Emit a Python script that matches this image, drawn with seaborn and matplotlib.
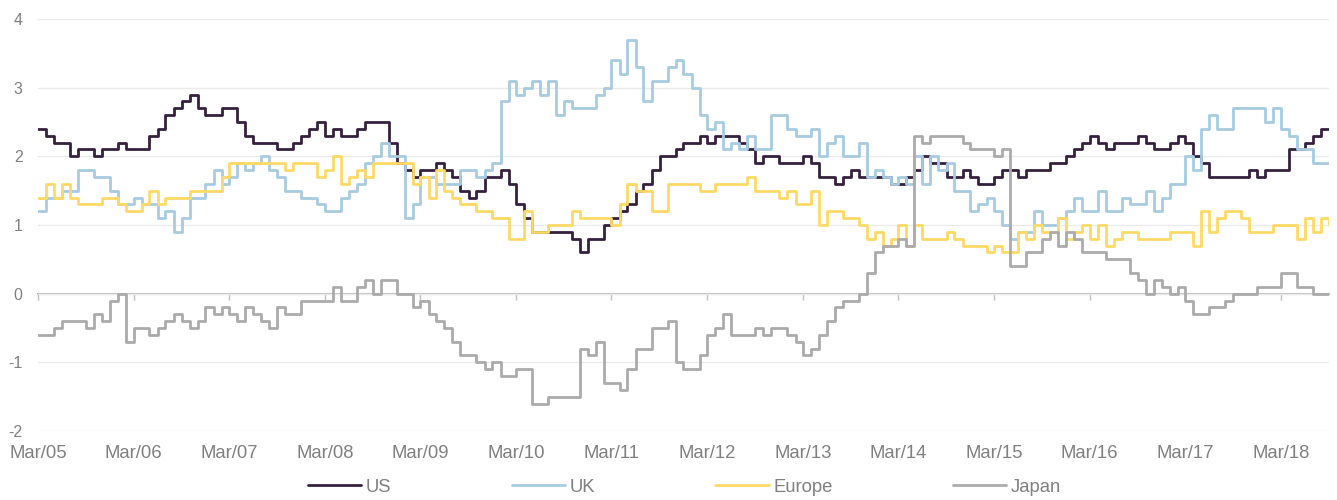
import numpy as np
import pandas as pd
import matplotlib
matplotlib.use("Agg")
import matplotlib.pyplot as plt
import matplotlib.dates as mdates
import seaborn as sns

sns.set_style("white")
plt.rcParams['font.family'] = ['Liberation Sans', 'DejaVu Sans']
plt.rcParams['axes.unicode_minus'] = False

# monthly readings, Mar 2005 .. Sep 2018 (one row per year, Mar..Feb)
us = [2.4, 2.3, 2.2, 2.2, 2.0, 2.1, 2.1, 2.0, 2.1, 2.1, 2.2, 2.1,
      2.1, 2.1, 2.3, 2.4, 2.6, 2.7, 2.8, 2.9, 2.7, 2.6, 2.6, 2.7,
      2.7, 2.5, 2.3, 2.2, 2.2, 2.2, 2.1, 2.1, 2.2, 2.3, 2.4, 2.5,
      2.3, 2.4, 2.3, 2.3, 2.4, 2.5, 2.5, 2.5, 2.2, 1.9, 1.8, 1.7,
      1.8, 1.8, 1.9, 1.8, 1.7, 1.5, 1.4, 1.5, 1.7, 1.7, 1.8, 1.6,
      1.3, 1.1, 0.9, 0.9, 0.9, 0.9, 0.9, 0.8, 0.6, 0.8, 0.8, 1.0,
      1.1, 1.2, 1.3, 1.5, 1.6, 1.8, 2.0, 2.0, 2.1, 2.2, 2.2, 2.3,
      2.2, 2.3, 2.3, 2.3, 2.2, 2.1, 1.9, 2.0, 2.0, 1.9, 1.9, 1.9,
      2.0, 1.9, 1.7, 1.7, 1.6, 1.7, 1.8, 1.7, 1.7, 1.7, 1.7, 1.6,
      1.6, 1.7, 1.8, 2.0, 1.9, 1.9, 1.7, 1.7, 1.8, 1.7, 1.6, 1.6,
      1.7, 1.8, 1.8, 1.7, 1.8, 1.8, 1.8, 1.9, 1.9, 2.0, 2.1, 2.2,
      2.3, 2.2, 2.1, 2.2, 2.2, 2.2, 2.3, 2.2, 2.1, 2.1, 2.2, 2.3,
      2.2, 2.0, 1.9, 1.7, 1.7, 1.7, 1.7, 1.7, 1.8, 1.7, 1.8, 1.8,
      1.8, 2.1, 2.1, 2.2, 2.3, 2.4, 2.4]

uk = [1.2, 1.4, 1.4, 1.5, 1.5, 1.8, 1.8, 1.7, 1.7, 1.5, 1.3, 1.3,
      1.4, 1.3, 1.3, 1.1, 1.2, 0.9, 1.1, 1.4, 1.4, 1.6, 1.8, 1.6,
      1.7, 1.9, 1.8, 1.9, 2.0, 1.8, 1.7, 1.5, 1.5, 1.4, 1.4, 1.3,
      1.2, 1.2, 1.4, 1.5, 1.6, 1.9, 2.0, 2.2, 2.0, 2.0, 1.1, 1.3,
      1.7, 1.7, 1.6, 1.6, 1.6, 1.8, 1.8, 1.7, 1.8, 1.9, 2.8, 3.1,
      2.9, 3.0, 3.1, 2.9, 3.1, 2.6, 2.8, 2.7, 2.7, 2.7, 2.9, 3.0,
      3.4, 3.2, 3.7, 3.3, 2.8, 3.1, 3.1, 3.3, 3.4, 3.2, 3.0, 2.6,
      2.4, 2.5, 2.1, 2.2, 2.1, 2.3, 2.1, 2.1, 2.6, 2.6, 2.4, 2.3,
      2.3, 2.4, 2.0, 2.2, 2.3, 2.0, 2.0, 2.2, 1.7, 1.8, 1.7, 1.6,
      1.7, 1.6, 2.0, 1.6, 2.0, 1.8, 1.9, 1.5, 1.5, 1.2, 1.3, 1.4,
      1.2, 1.0, 0.8, 0.9, 0.9, 1.2, 1.0, 1.0, 1.1, 1.2, 1.4, 1.2,
      1.2, 1.5, 1.2, 1.2, 1.4, 1.3, 1.3, 1.5, 1.2, 1.4, 1.6, 1.6,
      2.0, 1.8, 2.4, 2.6, 2.4, 2.4, 2.7, 2.7, 2.7, 2.7, 2.5, 2.7,
      2.4, 2.3, 2.1, 2.1, 1.9, 1.9, 1.9]

europe = [1.4, 1.6, 1.4, 1.6, 1.4, 1.3, 1.3, 1.3, 1.4, 1.4, 1.3, 1.2,
          1.2, 1.3, 1.5, 1.3, 1.4, 1.4, 1.4, 1.5, 1.5, 1.5, 1.5, 1.7,
          1.9, 1.9, 1.9, 1.9, 1.9, 1.9, 1.9, 1.8, 1.9, 1.9, 1.9, 1.7,
          1.8, 2.0, 1.6, 1.7, 1.8, 1.7, 1.9, 1.9, 1.9, 1.9, 1.9, 1.6,
          1.7, 1.4, 1.8, 1.5, 1.4, 1.3, 1.3, 1.2, 1.2, 1.1, 1.1, 0.8,
          0.8, 1.2, 0.9, 0.9, 1.0, 1.0, 1.0, 1.2, 1.1, 1.1, 1.1, 1.1,
          1.0, 1.3, 1.6, 1.5, 1.5, 1.2, 1.2, 1.6, 1.6, 1.6, 1.6, 1.5,
          1.5, 1.6, 1.6, 1.6, 1.6, 1.7, 1.5, 1.5, 1.5, 1.4, 1.5, 1.3,
          1.3, 1.5, 1.0, 1.2, 1.2, 1.1, 1.1, 1.0, 0.8, 0.9, 0.7, 0.8,
          1.0, 0.7, 1.0, 0.8, 0.8, 0.8, 0.9, 0.8, 0.7, 0.7, 0.7, 0.6,
          0.7, 0.6, 0.6, 0.9, 0.8, 1.0, 0.9, 0.9, 1.1, 0.8, 0.9, 1.0,
          0.8, 1.0, 0.7, 0.8, 0.9, 0.9, 0.8, 0.8, 0.8, 0.8, 0.9, 0.9,
          0.9, 0.7, 1.2, 0.9, 1.1, 1.2, 1.2, 1.1, 0.9, 0.9, 0.9, 1.0,
          1.0, 1.0, 0.8, 1.1, 0.9, 1.1, 1.0]

japan = [-0.6, -0.6, -0.5, -0.4, -0.4, -0.4, -0.5, -0.3, -0.4, -0.1, 0.0, -0.7,
         -0.5, -0.5, -0.6, -0.5, -0.4, -0.3, -0.4, -0.5, -0.4, -0.2, -0.3, -0.2,
         -0.3, -0.4, -0.2, -0.3, -0.4, -0.5, -0.2, -0.3, -0.3, -0.1, -0.1, -0.1,
         -0.1, 0.1, -0.1, -0.1, 0.1, 0.2, 0.0, 0.2, 0.2, 0.0, 0.0, -0.2,
         -0.1, -0.3, -0.4, -0.5, -0.7, -0.9, -0.9, -1.0, -1.1, -1.0, -1.2, -1.2,
         -1.1, -1.1, -1.6, -1.6, -1.5, -1.5, -1.5, -1.5, -0.8, -0.9, -0.7, -1.3,
         -1.3, -1.4, -1.1, -0.8, -0.8, -0.5, -0.5, -0.4, -1.0, -1.1, -1.1, -0.9,
         -0.6, -0.5, -0.3, -0.6, -0.6, -0.6, -0.5, -0.6, -0.5, -0.5, -0.6, -0.7,
         -0.9, -0.8, -0.6, -0.4, -0.2, -0.1, -0.1, 0.0, 0.3, 0.6, 0.7, 0.7,
         0.8, 0.7, 2.3, 2.2, 2.3, 2.3, 2.3, 2.3, 2.2, 2.1, 2.1, 2.1,
         2.0, 2.1, 0.4, 0.4, 0.6, 0.6, 0.8, 0.9, 0.7, 0.9, 0.8, 0.6,
         0.6, 0.6, 0.5, 0.5, 0.5, 0.3, 0.2, 0.0, 0.2, 0.1, 0.0, 0.1,
         -0.1, -0.3, -0.3, -0.2, -0.2, -0.1, 0.0, 0.0, 0.0, 0.1, 0.1, 0.1,
         0.3, 0.3, 0.1, 0.1, 0.0, 0.0, 0.0]

regions = ['US', 'UK', 'Europe', 'Japan']
colours = ['#35203f', '#a7cbe0', '#ffd966', '#ababab']
grey = '#808080'

months = pd.date_range('2005-03-01', periods=len(us), freq='MS')
df = pd.DataFrame({'US': us, 'UK': uk, 'Europe': europe, 'Japan': japan}, index=months)
df.index.name = 'date'
long_df = df.reset_index().melt(id_vars='date', var_name='region', value_name='value')

fig, ax = plt.subplots(figsize=(13.37, 5), dpi=100)
fig.subplots_adjust(left=0.0284, right=0.9940, top=0.962, bottom=0.138)

sns.lineplot(data=long_df, x='date', y='value', hue='region', hue_order=regions,
             palette=dict(zip(regions, colours)), drawstyle='steps-post',
             linewidth=2, estimator=None, ax=ax)

ax.set_xlim(months[0], months[-1])
ax.set_ylim(-2, 4)
ax.set_yticks(range(-2, 5))
ax.set_xlabel('')
ax.set_ylabel('')

ax.xaxis.set_major_locator(mdates.YearLocator(base=1, month=3, day=1))
ax.xaxis.set_major_formatter(mdates.DateFormatter('%b/%y'))
ax.tick_params(axis='x', labelsize=13.3, pad=10, length=0, labelcolor=grey)
ax.tick_params(axis='y', labelsize=11.5, pad=11, length=0, labelcolor=grey)

ax.yaxis.grid(True, color='#ebebeb', linewidth=1)
ax.set_axisbelow(True)
sns.despine(ax=ax, left=True, bottom=True)

# axis line at zero with small year ticks
zero = ax.secondary_xaxis(1 / 3)
zero.xaxis.set_major_locator(mdates.YearLocator(base=1, month=3, day=1))
zero.tick_params(axis='x', labelbottom=False, labeltop=False, length=4,
                 width=1, color='#bfbfbf', direction='out')
zero.spines['bottom'].set_color('#bfbfbf')
zero.spines['bottom'].set_linewidth(1.5)
zero.spines['top'].set_visible(False)

handles, labels = ax.get_legend_handles_labels()
ax.get_legend().remove()
leg = fig.legend(handles, labels, loc='center', bbox_to_anchor=(0.512, 0.026),
                 ncol=4, frameon=False, fontsize=13.3, handlelength=2.9,
                 handletextpad=0.25, columnspacing=6.5)
for t in leg.get_texts():
    t.set_color(grey)

fig.savefig('out.png', dpi=100)
